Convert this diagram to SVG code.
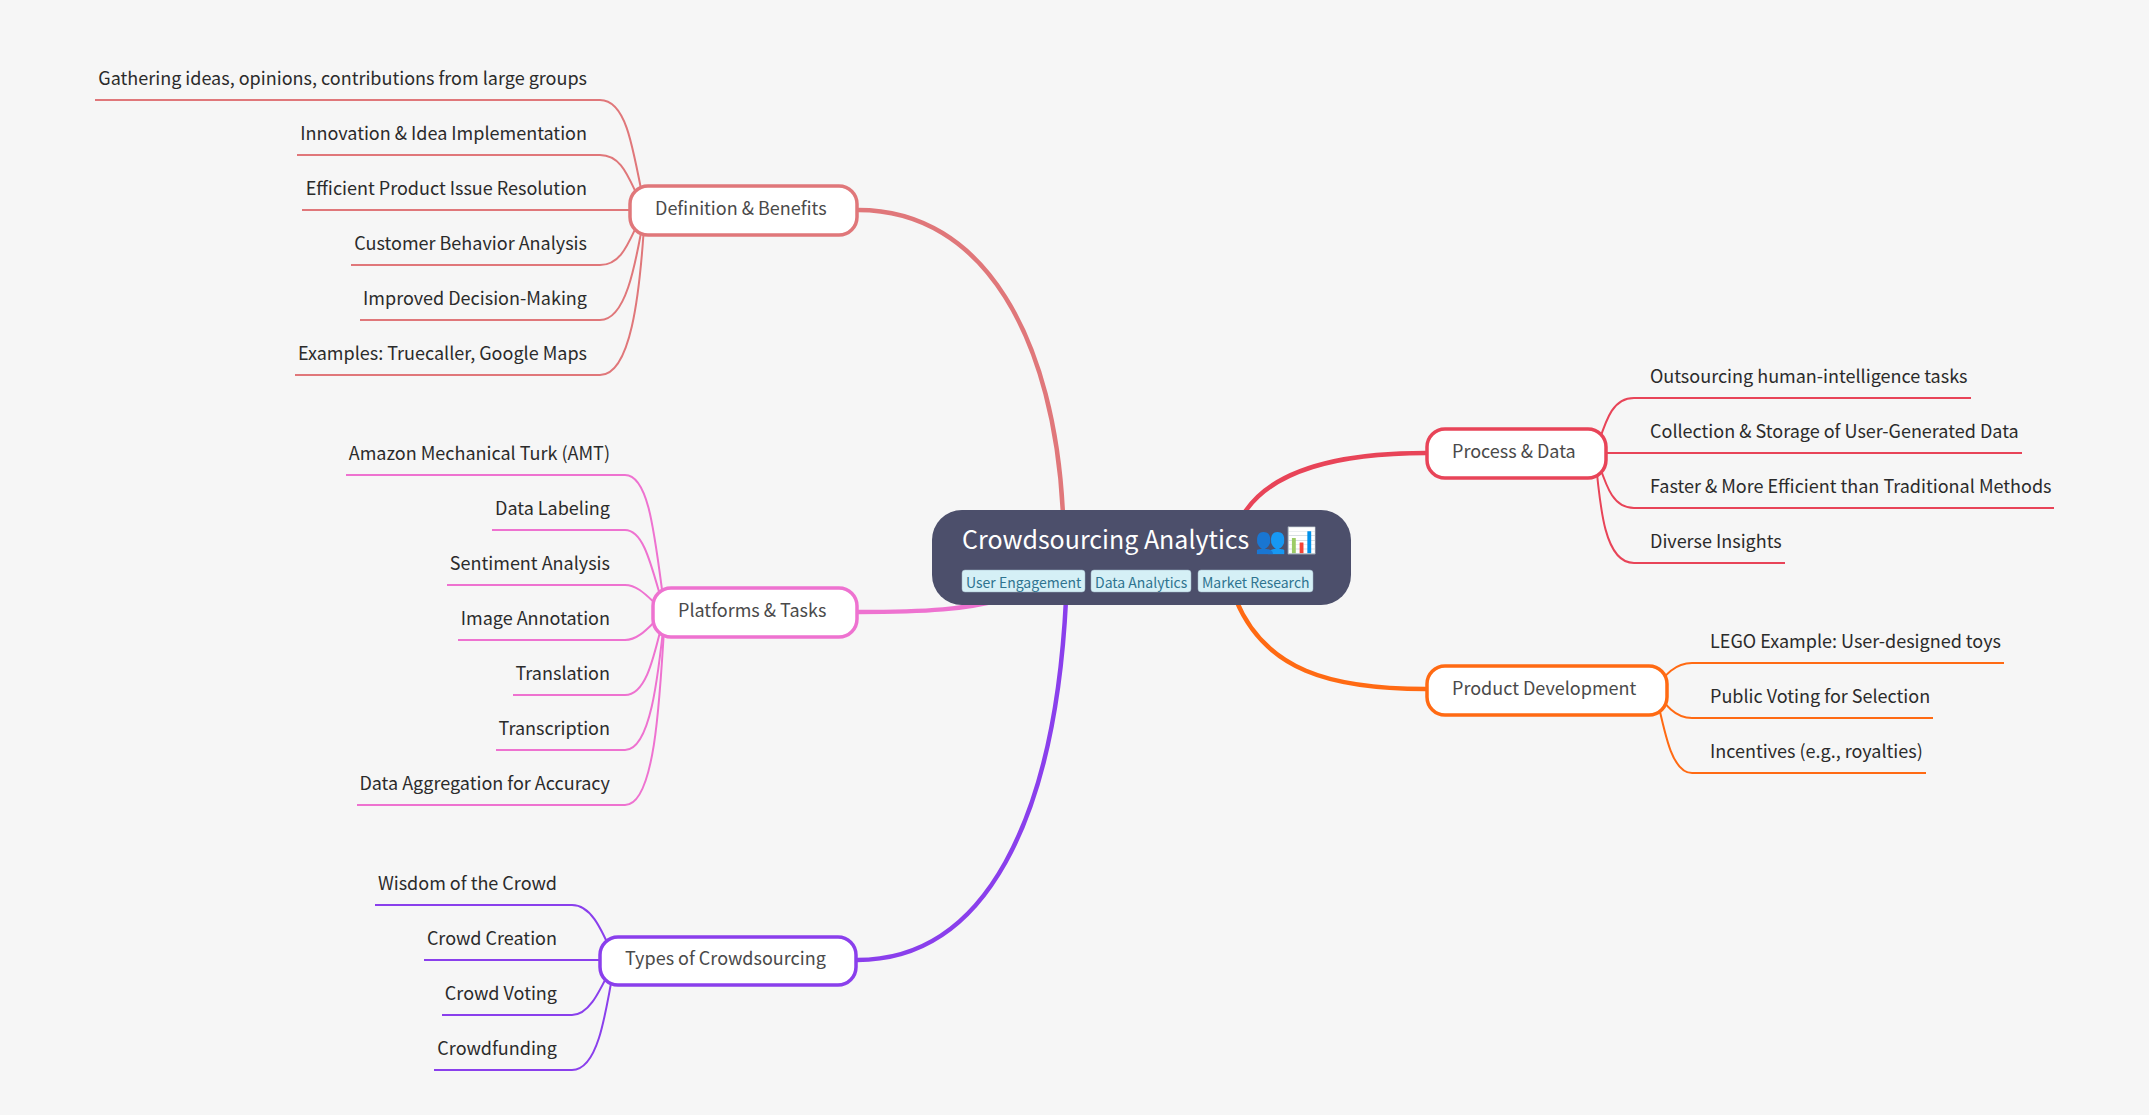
<svg xmlns="http://www.w3.org/2000/svg" width="2149" height="1115" viewBox="0 0 2149 1115">
<style>
text{font-family:"Noto Sans CJK SC","Noto Sans",sans-serif}
.c{fill:none}
.m{stroke-width:4.5}
.l{stroke-width:2}
.n{fill:#fff;stroke-width:3.5}
.t{font-size:18px;fill:#4a4a4a}
.f{font-size:18px;fill:#2b2b2b}
.e{text-anchor:end}
.tag{fill:#d5f0f6;stroke:#9fb4c4;stroke-width:.5}
.tt{font-size:14px;fill:#2f7490}
.a{stroke:#e0777a}.b{stroke:#ee72d0}.d{stroke:#8a3fec}.p{stroke:#e84458}.o{stroke:#ff6a13}
</style>
<rect width="2149" height="1115" fill="#f6f6f6"/>
<g id="connectors">
<path class="c m a" d="M858,210C985,210 1055,340 1063,515"/>
<path class="c m b" d="M858,612C930,612 965,609 1000,600"/>
<path class="c m d" d="M857,960C985,960 1055,820 1066,600"/>
<path class="c m p" d="M1426,453C1340,453 1270,470 1243,515"/>
<path class="c m o" d="M1426,689C1330,689 1265,670 1236,600"/>
<g class="c l a">
<path d="M95,100H600C625,100 632,140 645,210"/>
<path d="M297,155H600C625,155 630,185 645,210"/>
<path d="M302,210H645"/>
<path d="M351,265H600C625,265 630,235 645,210"/>
<path d="M360,320H600C625,320 635,270 645,210"/>
<path d="M295,375H600C630,375 640,300 645,210"/>
</g>
<g class="c l b">
<path d="M346,475H625C650,475 655,540 665,612"/>
<path d="M492,530H625C645,530 652,570 665,612"/>
<path d="M447,585H625C640,585 650,600 665,612"/>
<path d="M458,640H625C640,640 650,625 665,612"/>
<path d="M513,695H625C648,695 655,650 665,612"/>
<path d="M496,750H625C650,750 658,680 665,612"/>
<path d="M357,805H625C655,805 660,700 665,612"/>
</g>
<g class="c l d">
<path d="M375,905H572C590,905 600,925 615,960"/>
<path d="M424,960H615"/>
<path d="M442,1015H572C590,1015 600,990 615,960"/>
<path d="M434,1070H572C597,1070 605,1020 615,960"/>
</g>
<g class="c l p">
<path d="M1971,398H1634C1610,398 1605,425 1595,453"/>
<path d="M2022,453H1595"/>
<path d="M2054,508H1634C1610,508 1605,480 1595,453"/>
<path d="M1785,563H1634C1605,563 1600,510 1595,453"/>
</g>
<g class="c l o">
<path d="M2004,663H1692C1675,663 1665,675 1655,689"/>
<path d="M1933,718H1692C1675,718 1665,705 1655,689"/>
<path d="M1926,773H1692C1672,773 1665,735 1655,689"/>
</g>
</g>
<g id="root">
<rect x="932" y="510" width="419" height="95" rx="30" fill="#4c4f6b"/>
<text x="962" y="549" font-size="25" fill="#fff">Crowdsourcing Analytics 👥📊</text>
<rect class="tag" x="962" y="570" width="123" height="22" rx="3"/>
<text class="tt" x="966" y="588">User Engagement</text>
<rect class="tag" x="1091" y="570" width="100" height="22" rx="3"/>
<text class="tt" x="1095" y="588">Data Analytics</text>
<rect class="tag" x="1198" y="570" width="115" height="22" rx="3"/>
<text class="tt" x="1202" y="588">Market Research</text>
</g>
<g id="definition"><rect class="n a" x="630" y="186" width="227" height="49" rx="18"/><text class="t" x="655" y="215">Definition &amp; Benefits</text></g>
<g id="platforms"><rect class="n b" x="653" y="588" width="204" height="49" rx="18"/><text class="t" x="678" y="617">Platforms &amp; Tasks</text></g>
<g id="types"><rect class="n d" x="600" y="937" width="256" height="48" rx="18"/><text class="t" x="625" y="965">Types of Crowdsourcing</text></g>
<g id="process"><rect class="n p" x="1427" y="429" width="179" height="49" rx="18"/><text class="t" x="1452" y="458">Process &amp; Data</text></g>
<g id="product"><rect class="n o" x="1427" y="666" width="240" height="49" rx="18"/><text class="t" x="1452" y="695">Product Development</text></g>
<g id="leaves">
<text class="f e" x="587" y="85">Gathering ideas, opinions, contributions from large groups</text>
<text class="f e" x="587" y="140">Innovation &amp; Idea Implementation</text>
<text class="f e" x="587" y="195">Efficient Product Issue Resolution</text>
<text class="f e" x="587" y="250">Customer Behavior Analysis</text>
<text class="f e" x="587" y="305">Improved Decision-Making</text>
<text class="f e" x="587" y="360">Examples: Truecaller, Google Maps</text>
<text class="f e" x="610" y="460">Amazon Mechanical Turk (AMT)</text>
<text class="f e" x="610" y="515">Data Labeling</text>
<text class="f e" x="610" y="570">Sentiment Analysis</text>
<text class="f e" x="610" y="625">Image Annotation</text>
<text class="f e" x="610" y="680">Translation</text>
<text class="f e" x="610" y="735">Transcription</text>
<text class="f e" x="610" y="790">Data Aggregation for Accuracy</text>
<text class="f e" x="557" y="890">Wisdom of the Crowd</text>
<text class="f e" x="557" y="945">Crowd Creation</text>
<text class="f e" x="557" y="1000">Crowd Voting</text>
<text class="f e" x="557" y="1055">Crowdfunding</text>
<text class="f" x="1650" y="383">Outsourcing human-intelligence tasks</text>
<text class="f" x="1650" y="438">Collection &amp; Storage of User-Generated Data</text>
<text class="f" x="1650" y="493">Faster &amp; More Efficient than Traditional Methods</text>
<text class="f" x="1650" y="548">Diverse Insights</text>
<text class="f" x="1710" y="648">LEGO Example: User-designed toys</text>
<text class="f" x="1710" y="703">Public Voting for Selection</text>
<text class="f" x="1710" y="758">Incentives (e.g., royalties)</text>
</g>
</svg>
